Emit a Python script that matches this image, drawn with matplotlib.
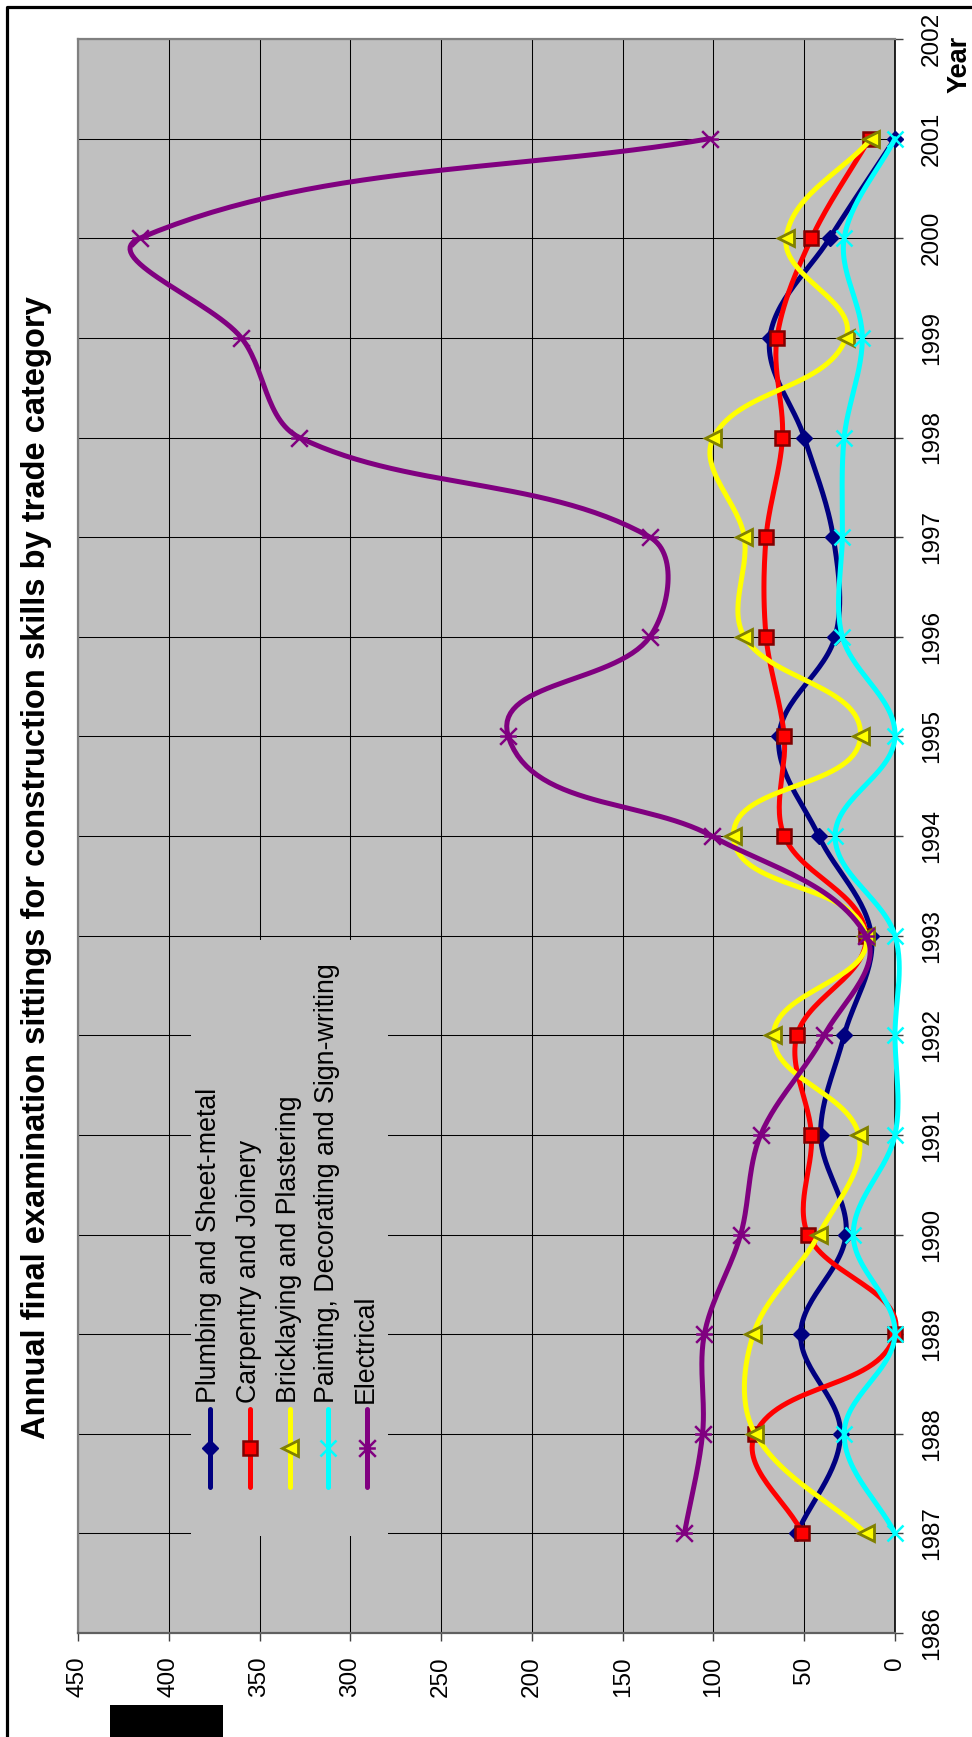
import numpy as np
import matplotlib
matplotlib.use('Agg')
import matplotlib.pyplot as plt
from matplotlib.path import Path
from matplotlib.patches import Rectangle
from matplotlib.lines import Line2D

plt.rcParams['font.family'] = ['Liberation Sans', 'DejaVu Sans']

# exam sittings per year
years = list(range(1987, 2002))
plumbing = [54, 30, 52, 27, 41, 28, 13, 42, 64, 33, 34, 50, 69, 36, 0]
carpentry = [51, 77, 0, 48, 46, 54, 16, 61, 61, 71, 71, 62, 65, 46, 14]
bricklaying = [16, 77, 78, 42, 20, 67, 16, 89, 19, 83, 83, 100, 27, 60, 13]
painting = [0, 28, 0, 23, 0, 0, 0, 33, 0, 29, 29, 28, 18, 28, 0]
electrical = [116, 106, 105, 85, 74, 39, 16, 101, 213, 135, 135, 328, 360, 416, 102]

names = ['Plumbing and Sheet-metal', 'Carpentry and Joinery',
         'Bricklaying and Plastering', 'Painting, Decorating and Sign-writing',
         'Electrical']
title = 'Annual final examination sittings for construction skills by trade category'

# asterisk marker: an x with a bar through it
star = Path([(-0.5, -0.5), (0.5, 0.5), (-0.5, 0.5), (0.5, -0.5), (-0.5, 0), (0.5, 0)],
            [Path.MOVETO, Path.LINETO, Path.MOVETO, Path.LINETO, Path.MOVETO, Path.LINETO])

styles = [
    dict(color='#000080', marker='D', ms=8.5, mfc='#000080', mec='#000080', mew=1),
    dict(color='#FF0000', marker='s', ms=10, mfc='#FF0000', mec='#800000', mew=1.8),
    dict(color='#FFFF00', marker='<', ms=12, mfc='#FFFF00', mec='#808000', mew=2),
    dict(color='#00FFFF', marker='x', ms=12, mfc='#00FFFF', mec='#00FFFF', mew=1.8),
    dict(color='#800080', marker=star, ms=12, mfc='#800080', mec='#800080', mew=1.8),
]

W, H = 972, 1737
AX_L, AX_R, AX_T, AX_B = 78, 895, 39, 1633
PX_PER_UNIT = (AX_R - AX_L) / 450.0
PX_PER_YEAR = (AX_B - AX_T) / 16.0


def smooth_curve(vals, yrs, steps=30):
    # bezier through every point, tangents taken in screen space,
    # handle length a third of the segment it belongs to
    sx = np.asarray(vals, float) * PX_PER_UNIT
    sy = np.asarray(yrs, float) * PX_PER_YEAR
    pts = np.column_stack([sx, sy])
    pts = np.vstack([pts[0], pts, pts[-1]])
    t = np.linspace(0, 1, steps + 1)[1:, None]
    out = [pts[1]]
    for i in range(1, len(pts) - 2):
        p0, p1, p2, p3 = pts[i - 1], pts[i], pts[i + 1], pts[i + 2]
        d12 = np.hypot(*(p2 - p1))
        t1 = p2 - p0
        t2 = p3 - p1
        c1 = p1 + t1 / max(np.hypot(*t1), 1e-9) * d12 / 3.0
        c2 = p2 - t2 / max(np.hypot(*t2), 1e-9) * d12 / 3.0
        b = ((1 - t) ** 3 * p1 + 3 * (1 - t) ** 2 * t * c1
             + 3 * (1 - t) * t ** 2 * c2 + t ** 3 * p2)
        out.extend(b)
    out = np.array(out)
    return out[:, 0] / PX_PER_UNIT, out[:, 1] / PX_PER_YEAR


fig = plt.figure(figsize=(W / 100, H / 100), dpi=100)


def fx(px):
    return px / W


def fy(py):
    return 1 - py / H


ax = fig.add_axes([fx(AX_L), fy(AX_B), fx(AX_R) - fx(AX_L), fy(AX_T) - fy(AX_B)])
ax.set_facecolor('#C0C0C0')
ax.set_xlim(450, 0)
ax.set_ylim(1986, 2002)
ax.set_xticks(range(0, 451, 50))
ax.set_yticks(range(1986, 2003))
ax.set_axisbelow(True)
ax.grid(True, color='black', linewidth=0.75)

ax.yaxis.tick_right()
ax.tick_params(axis='x', direction='out', length=6, width=1, color='#404040',
               labelsize=17.5, labelrotation=90, pad=11)
ax.tick_params(axis='y', direction='out', length=6, width=1, color='#404040',
               labelsize=17.5, labelrotation=90, pad=12.5)
for lab in ax.get_yticklabels():
    lab.set_va('center')

ax.spines['left'].set_color('#808080')
ax.spines['left'].set_linewidth(1.6)
ax.spines['top'].set_color('#808080')
ax.spines['top'].set_linewidth(1.6)
ax.spines['bottom'].set_color('#606060')
ax.spines['bottom'].set_linewidth(1.6)
ax.spines['right'].set_color('black')
ax.spines['right'].set_linewidth(1.2)

# the series, each as a smoothed line with its markers on top
all_series = [plumbing, carpentry, bricklaying, painting, electrical]
for k, (vals, st) in enumerate(zip(all_series, styles)):
    sx, sy = smooth_curve(vals, years)
    ax.plot(sx, sy, color=st['color'], lw=3.6, solid_capstyle='round',
            solid_joinstyle='round', zorder=3 + k * 0.1, clip_on=False)
    ax.plot(vals, years, linestyle='none', marker=st['marker'], ms=st['ms'],
            mfc=st['mfc'], mec=st['mec'], mew=st['mew'], zorder=3.05 + k * 0.1,
            clip_on=False)

# legend panel sitting over the gridlines
ax.add_patch(Rectangle((fx(191), fy(1536)), fx(388) - fx(191), fy(940) - fy(1536),
                       transform=fig.transFigure, facecolor='#C0C0C0',
                       edgecolor='none', zorder=1))
leg_x = [210, 250, 290, 328, 367]
for name, st, lx in zip(names, styles, leg_x):
    fig.add_artist(Line2D([fx(lx), fx(lx)], [fy(1487), fy(1409)], color=st['color'],
                          lw=3.6, solid_capstyle='round', transform=fig.transFigure))
    fig.add_artist(Line2D([fx(lx)], [fy(1448)], linestyle='none', marker=st['marker'],
                          ms=st['ms'], mfc=st['mfc'], mec=st['mec'], mew=st['mew'],
                          transform=fig.transFigure))
    fig.text(fx(lx - 1), fy(1403), name, rotation=90, rotation_mode='anchor',
             ha='left', va='center', fontsize=19.3)

fig.text(fx(37), fy(868), title, rotation=90, fontsize=23.5, fontweight='bold',
         ha='center', va='center')
fig.text(fx(960), fy(64), 'Year', rotation=90, fontsize=19.5, fontweight='bold',
         ha='center', va='center')

# outer frame on the left and top, plus the black block at the bottom
fig.add_artist(Line2D([fx(7), fx(7), 1], [0, fy(7), fy(7)], color='black', lw=2.3,
                      transform=fig.transFigure))
fig.add_artist(Rectangle((fx(110), 0), fx(223) - fx(110), fy(1705),
                         transform=fig.transFigure, facecolor='black', edgecolor='none'))

fig.savefig('out.png', dpi=100)
